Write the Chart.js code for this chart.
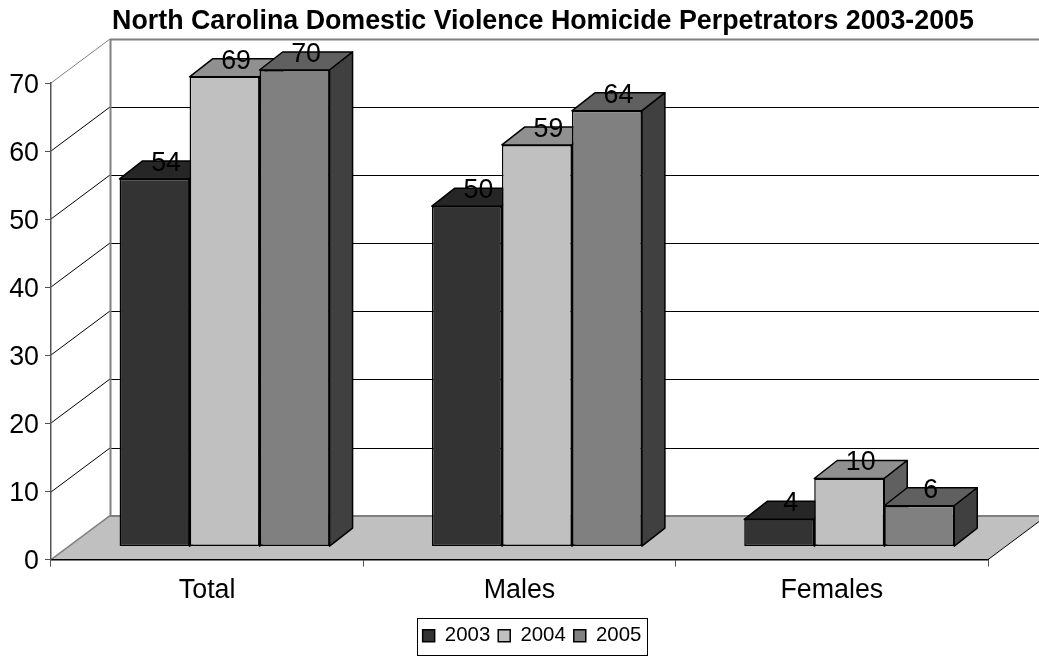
<!DOCTYPE html>
<html>
<head>
<meta charset="utf-8">
<title>North Carolina Domestic Violence Homicide Perpetrators 2003-2005</title>
<script src="https://cdn.jsdelivr.net/npm/chart.js@4/dist/chart.umd.js"></script>
<style>
  html, body { margin: 0; padding: 0; background: #fff; }
  canvas { display: block; }
</style>
</head>
<body>
<canvas id="chart" width="1039" height="658"></canvas>
<script>
const categories = ['Total', 'Males', 'Females']
const seriesNames = ['2003', '2004', '2005']
const values2003 = [54, 50, 4]
const values2004 = [69, 59, 10]
const values2005 = [70, 64, 6]
const yTicks = [0, 10, 20, 30, 40, 50, 60, 70]

const FONT = '"Liberation Sans", Arial, sans-serif'
const WALL = { dx: 59, dy: 44 }       // how far the back wall sits from the front plane
const BAR_SHIFT = { dx: 17.4, dy: 13 } // front face of the bars, relative to the front plane
const BAR_DEPTH = { dx: 23, dy: 18 }

const faces = {
  '#333333': { top: '#262626', side: '#1a1a1a' },
  '#c0c0c0': { top: '#909090', side: '#606060' },
  '#808080': { top: '#606060', side: '#404040' },
}

function poly(ctx, pts, fill, stroke, width) {
  ctx.beginPath()
  pts.forEach((p, i) => (i ? ctx.lineTo(p[0], p[1]) : ctx.moveTo(p[0], p[1])))
  ctx.closePath()
  ctx.fillStyle = fill
  ctx.fill()
  if (stroke) {
    ctx.strokeStyle = stroke
    ctx.lineWidth = width
    ctx.lineJoin = 'round'
    ctx.stroke()
  }
}

function line(ctx, x1, y1, x2, y2, color, width) {
  ctx.beginPath()
  ctx.moveTo(x1, y1)
  ctx.lineTo(x2, y2)
  ctx.strokeStyle = color
  ctx.lineWidth = width
  ctx.stroke()
}

const box3d = {
  id: 'box3d',
  afterLayout(chart) {
    // the title and legend sit right of the plot centre in the original
    chart.titleBlock.left += 49
    chart.titleBlock.right += 49
    chart.legend.left += 38
    chart.legend.right += 38
  },
  beforeDraw(chart) {
    const { ctx, chartArea: a, scales: { y } } = chart
    const zero = y.getPixelForValue(0)
    ctx.save()
    // floor
    poly(ctx, [[a.left, zero], [a.right, zero], [a.right + WALL.dx, zero - WALL.dy], [a.left + WALL.dx, zero - WALL.dy]], '#c0c0c0')
    line(ctx, a.left, zero, a.left + WALL.dx, zero - WALL.dy, '#808080', 1.5)
    line(ctx, a.left + WALL.dx, zero - WALL.dy + 0.5, a.right + WALL.dx, zero - WALL.dy + 0.5, '#808080', 2)
    line(ctx, a.right, zero, a.right + WALL.dx, zero - WALL.dy, '#000', 1)
    // grid lines over both walls
    y.ticks.forEach(t => {
      if (t.value === 0) return
      const py = Math.round(y.getPixelForValue(t.value))
      const top = t.value === y.max
      const color = top ? '#808080' : '#000'
      line(ctx, a.left, py, a.left + WALL.dx, py - WALL.dy, color, 1)
      line(ctx, a.left + WALL.dx, py - WALL.dy + 0.5, a.right + WALL.dx, py - WALL.dy + 0.5, color, top ? 2 : 1)
    })
    line(ctx, a.left + WALL.dx + 0.5, y.getPixelForValue(y.max) - WALL.dy, a.left + WALL.dx + 0.5, zero - WALL.dy, '#808080', 2)
    ctx.restore()
  },
  beforeDatasetDraw() {
    return false // painted in beforeDatasetsDraw, first series first
  },
  beforeDatasetsDraw(chart) {
    const { ctx } = chart
    ctx.save()
    ctx.translate(BAR_SHIFT.dx, -BAR_SHIFT.dy)
    chart.data.datasets.forEach((ds, i) => {
      const meta = chart.getDatasetMeta(i)
      meta.data.forEach(bar => {
        const c = faces[bar.options.backgroundColor]
        const l = bar.x - bar.width / 2
        const r = bar.x + bar.width / 2
        const d = BAR_DEPTH
        poly(ctx, [[l, bar.y], [r, bar.y], [r + d.dx, bar.y - d.dy], [l + d.dx, bar.y - d.dy]], c.top, '#000', 1.5)
        poly(ctx, [[r, bar.y], [r + d.dx, bar.y - d.dy], [r + d.dx, bar.base - d.dy], [r, bar.base]], c.side, '#000', 1.5)
      })
      meta.controller.draw()
    })
    ctx.restore()
  },
  afterDatasetsDraw(chart) {
    const { ctx } = chart
    ctx.save()
    ctx.font = '26.8px ' + FONT
    ctx.fillStyle = '#000'
    ctx.textAlign = 'center'
    ctx.textBaseline = 'middle'
    chart.data.datasets.forEach((ds, i) => {
      chart.getDatasetMeta(i).data.forEach((bar, j) => {
        ctx.fillText(ds.data[j], bar.x + BAR_SHIFT.dx + BAR_DEPTH.dx / 2, bar.y - BAR_SHIFT.dy - BAR_DEPTH.dy / 2 - 6.5)
      })
    })
    ctx.restore()
  },
  afterDraw(chart) {
    // legend frame
    const { ctx, legend } = chart
    const mid = (legend.left + legend.right) / 2
    ctx.save()
    ctx.strokeStyle = '#000'
    ctx.lineWidth = 1
    ctx.strokeRect(Math.round(mid - 115) + 0.5, 618.5, 230, 37)
    ctx.restore()
  },
}

function series(i, data, color) {
  return {
    label: seriesNames[i],
    data,
    backgroundColor: color,
    borderColor: '#000',
    borderWidth: 1.5,
    borderSkipped: false,
    categoryPercentage: 210 / 312.33,
    barPercentage: 1,
  }
}

new Chart(document.getElementById('chart'), {
  type: 'bar',
  plugins: [box3d],
  data: {
    labels: categories,
    datasets: [
      series(0, values2003, '#333333'),
      series(1, values2004, '#c0c0c0'),
      series(2, values2005, '#808080'),
    ],
  },
  options: {
    responsive: false,
    animation: false,
    layout: { padding: { top: 0, right: 51, bottom: 2, left: 0 } },
    plugins: {
      tooltip: { enabled: false },
      title: {
        display: true,
        text: 'North Carolina Domestic Violence Homicide Perpetrators 2003-2005',
        color: '#000',
        font: { family: FONT, size: 26.8, weight: 'bold', lineHeight: 1.2 },
        padding: { top: 6, bottom: 44.84 },
      },
      legend: {
        position: 'bottom',
        labels: {
          color: '#000',
          font: { family: FONT, size: 20.4 },
          boxWidth: 12,
          boxHeight: 12,
          padding: 8,
        },
      },
    },
    scales: {
      x: {
        afterFit: s => { s.height = 58 },
        grid: { drawOnChartArea: false, tickLength: 7, color: '#555', offset: true },
        border: { color: '#000', width: 1.5 },
        ticks: { color: '#000', font: { family: FONT, size: 26.8 }, padding: 8, maxRotation: 0 },
      },
      y: {
        min: yTicks[0],
        max: yTicks[yTicks.length - 1],
        afterFit: s => { s.width = 51 },
        afterBuildTicks: s => { s.ticks = yTicks.map(value => ({ value })) },
        grid: { drawOnChartArea: false, tickLength: 6, color: '#555' },
        border: { color: '#555', width: 1.5 },
        ticks: { color: '#000', font: { family: FONT, size: 26.8 }, padding: 6, labelOffset: 2.5 },
      },
    },
  },
})
</script>
</body>
</html>
